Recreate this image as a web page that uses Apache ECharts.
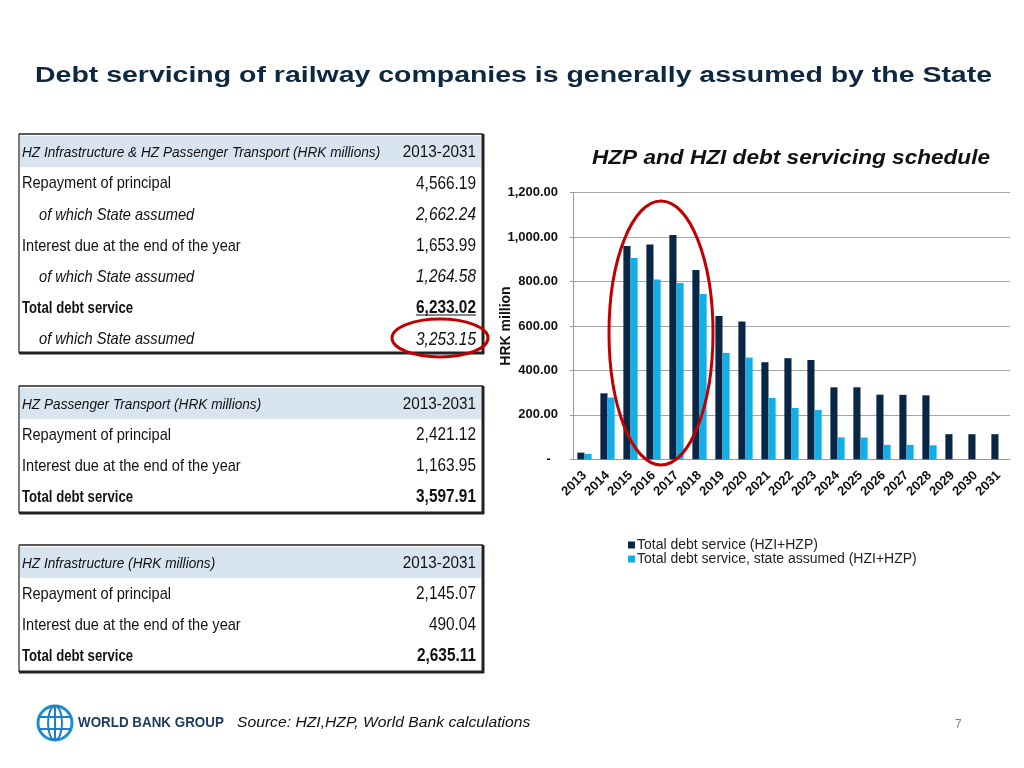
<!DOCTYPE html>
<html>
<head>
<meta charset="utf-8">
<script src="https://cdn.jsdelivr.net/npm/echarts@6/dist/echarts.min.js"></script>
<style>
html,body{margin:0;padding:0;background:#fff;}
#main{width:1024px;height:768px;}
</style>
</head>
<body>
<div id="main"></div>
<script>
// ---- Chart data ----
const years = ['2013','2014','2015','2016','2017','2018','2019','2020','2021','2022','2023','2024','2025','2026','2027','2028','2029','2030','2031'];
const totalDebtService = [30, 297, 960, 967, 1010, 852, 645, 620, 437, 455, 447, 324, 324, 291, 290, 288, 113, 113, 113];
const stateAssumed = [24, 278, 906, 809, 794, 744, 479, 458, 276, 231, 222, 99, 98, 65, 65, 63, 0, 0, 0];
const seriesNames = ['Total debt service (HZI+HZP)', 'Total debt service, state assumed (HZI+HZP)'];
const yTicks = [0, 200, 400, 600, 800, 1000, 1200];

// ---- Table data ----
const table1Header = ['HZ Infrastructure & HZ Passenger Transport (HRK millions)', '2013-2031'];
const table1Labels = ['Repayment of principal', 'of which State assumed', 'Interest due at the end of the year', 'of which State assumed', 'Total debt service', 'of which State assumed'];
const table1Values = ['4,566.19', '2,662.24', '1,653.99', '1,264.58', '6,233.02', '3,253.15'];
const table1Styles = ['normal', 'italic', 'normal', 'italic', 'bold', 'italic'];

const table2Header = ['HZ Passenger Transport (HRK millions)', '2013-2031'];
const table2Labels = ['Repayment of principal', 'Interest due at the end of the year', 'Total debt service'];
const table2Values = ['2,421.12', '1,163.95', '3,597.91'];
const table2Styles = ['normal', 'normal', 'bold'];

const table3Header = ['HZ Infrastructure (HRK millions)', '2013-2031'];
const table3Labels = ['Repayment of principal', 'Interest due at the end of the year', 'Total debt service'];
const table3Values = ['2,145.07', '490.04', '2,635.11'];
const table3Styles = ['normal', 'normal', 'bold'];

const DARK = '#0a2647';
const LIGHT = '#14aee6';
const RED = '#c00000';
const NAVY = '#0e2841';
const AFONT = '"Liberation Sans", Arial, sans-serif';

function txt(x, y, text, font, sx, align, fill, z) {
  return {type:'text', x:x, y:y, scaleX:sx, z:z||10,
    style:{text:text, font:font, fill:fill||'#111', align:align||'left', verticalAlign:'middle'}};
}

function buildTable(top, header, labels, values, styles, rowH, bottom) {
  const els = [];
  const L = 19, R = 483;
  els.push({type:'rect', shape:{x:L+1, y:top+2, width:R-L-3, height:rowH}, style:{fill:'#d9e4f1'}});
  els.push({type:'line', shape:{x1:L, y1:top, x2:R, y2:top}, style:{stroke:'#222', lineWidth:1.5}});
  els.push({type:'line', shape:{x1:L, y1:top, x2:L, y2:bottom}, style:{stroke:'#222', lineWidth:1.2}});
  els.push({type:'line', shape:{x1:R, y1:top, x2:R, y2:bottom+1}, style:{stroke:'#222', lineWidth:3}});
  els.push({type:'line', shape:{x1:L, y1:bottom, x2:R+1, y2:bottom}, style:{stroke:'#222', lineWidth:3}});
  const hy = top + 18.5;
  els.push(txt(22, hy, header[0], 'italic 15.4px '+AFONT, 0.886, 'left'));
  els.push(txt(476, hy, header[1], '17px '+AFONT, 0.9, 'right'));
  labels.forEach((lab, i) => {
    const cy = hy + rowH*(i+1);
    const st = styles[i];
    const indent = st === 'italic' ? 39 : 22;
    let f, sx;
    if (st === 'italic') { f = 'italic 17px ' + AFONT; sx = 0.86; }
    else if (st === 'bold') { f = 'bold 17px ' + AFONT; sx = 0.775; }
    else { f = '17px ' + AFONT; sx = 0.857; }
    els.push(txt(indent, cy, lab, f, sx, 'left'));
    const vf = (st==='italic'?'italic ':st==='bold'?'bold ':'') + '17.5px ' + AFONT;
    els.push(txt(476, cy, values[i], vf, 0.88, 'right'));
  });
  return els;
}

const graphics = [];
graphics.push(...buildTable(134, table1Header, table1Labels, table1Values, table1Styles, 31.2, 353));
graphics.push(...buildTable(386, table2Header, table2Labels, table2Values, table2Styles, 31, 513));
graphics.push(...buildTable(545, table3Header, table3Labels, table3Values, table3Styles, 31, 672));
graphics.push({type:'line', shape:{x1:416, y1:315, x2:476, y2:315}, style:{stroke:'#111', lineWidth:1}});
// red ellipses
graphics.push({type:'ellipse', shape:{cx:440, cy:338, rx:48, ry:19}, style:{fill:null, stroke:RED, lineWidth:3}, z:50});
graphics.push({type:'ellipse', shape:{cx:661, cy:333, rx:52, ry:132}, style:{fill:null, stroke:RED, lineWidth:3}, z:50});
// titles
graphics.push(txt(513.5, 76, 'Debt servicing of railway companies is generally assumed by the State', 'bold 22.5px '+AFONT, 1.265, 'center', NAVY));
graphics.push(txt(791, 158, 'HZP and HZI debt servicing schedule', 'italic bold 21px '+AFONT, 1.076, 'center', '#111'));
// logo globe
graphics.push({type:'group', x:55, y:723, children:[
  {type:'circle', shape:{cx:0, cy:0, r:17}, style:{fill:null, stroke:'#1b8fd2', lineWidth:3}},
  {type:'ellipse', shape:{cx:0, cy:0, rx:7, ry:17}, style:{fill:null, stroke:'#1f7fc4', lineWidth:2}},
  {type:'line', shape:{x1:-16, y1:-6, x2:16, y2:-6}, style:{stroke:'#1f7fc4', lineWidth:2}},
  {type:'line', shape:{x1:-16, y1:6, x2:16, y2:6}, style:{stroke:'#1f7fc4', lineWidth:2}},
  {type:'line', shape:{x1:0, y1:-17, x2:0, y2:17}, style:{stroke:'#1f7fc4', lineWidth:2}}
]});
graphics.push(txt(78, 723, 'WORLD BANK GROUP', 'bold 14px '+AFONT, 0.957, 'left', '#1b3a5e'));
graphics.push(txt(237, 723, 'Source: HZI,HZP, World Bank calculations', 'italic 14px '+AFONT, 1.12, 'left', '#111'));
graphics.push(txt(955, 725, '7', '12px '+AFONT, 1, 'left', '#7f7f7f'));

const chart = echarts.init(document.getElementById('main'));
chart.setOption({
  animation: false,
  backgroundColor: '#fff',
  legend: {
    orient:'vertical', left:623, top:533, itemWidth:7, itemHeight:7, itemGap:0,
    icon:'rect', data: seriesNames,
    textStyle:{fontFamily:AFONT, fontSize:14, lineHeight:14, color:'#222', padding:[0,0,0,-3]}
  },
  grid: {left:573, right:14, top:192.7, bottom:308.7, containLabel:false},
  xAxis: {
    type:'category', data: years,
    axisLine:{lineStyle:{color:'#999', width:1}},
    axisTick:{show:false},
    axisLabel:{rotate:45, interval:0, margin:14, fontFamily:AFONT, fontWeight:'bold', fontSize:13, color:'#111'}
  },
  yAxis: {
    type:'value', min:0, max:1200, interval:200,
    name:'HRK million', nameLocation:'middle', nameGap:60, nameRotate:90, nameMoveOverlap:false,
    nameTextStyle:{fontFamily:AFONT, fontWeight:'bold', fontSize:14, color:'#111'},
    axisLine:{show:true, lineStyle:{color:'#999'}},
    axisTick:{show:true, length:3, lineStyle:{color:'#999'}},
    splitLine:{lineStyle:{color:'#a6a6a6', width:1}},
    axisLabel:{margin:15, fontFamily:AFONT, fontWeight:'bold', fontSize:13, color:'#111',
      formatter: v => v === 0 ? '-  ' : v.toLocaleString('en-US',{minimumFractionDigits:2, maximumFractionDigits:2})}
  },
  series: [
    {name:seriesNames[0], type:'bar', data:totalDebtService, itemStyle:{color:DARK}, barGap:'0%', barCategoryGap:'38%'},
    {name:seriesNames[1], type:'bar', data:stateAssumed, itemStyle:{color:LIGHT}, barGap:'0%', barCategoryGap:'38%'}
  ],
  graphic: graphics
});
</script>
</body>
</html>
